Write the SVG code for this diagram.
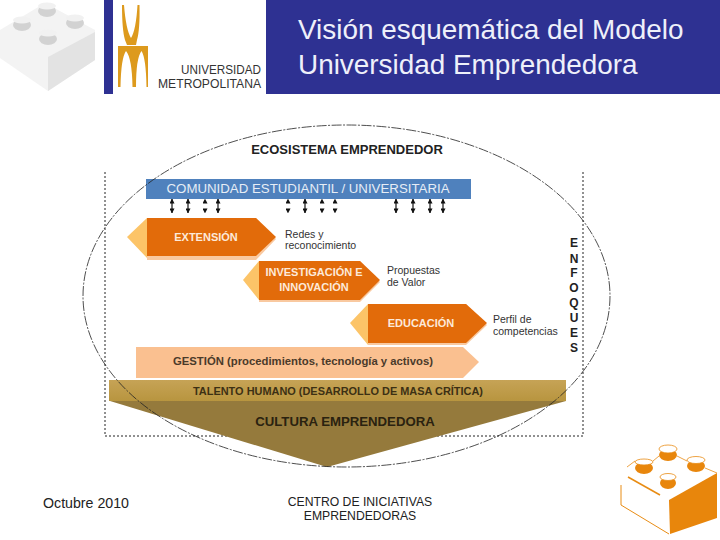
<svg xmlns="http://www.w3.org/2000/svg" width="720" height="540" viewBox="0 0 720 540">
<style>
text{font-family:"Liberation Sans",Arial,sans-serif}
.hd{font-size:27.900px;fill:#eef0fa}
.b{font-weight:bold}
.lab{font-size:10.500px;fill:#333}
.or{fill:#e26b0a}
.lt{fill:#fcc468}
.sh{fill:#f9c9a0}
.wt{font-size:11px;font-weight:bold;fill:#fde9d9;text-anchor:middle}
.arr{stroke:#111;stroke-width:1.200;fill:none;marker-start:url(#a);marker-end:url(#a)}
.arrg{stroke:none;fill:none;marker-start:url(#a);marker-end:url(#a)}
.foot{font-size:14.200px;fill:#222}
.cen{font-size:12.200px;fill:#222;text-anchor:middle}
.en{font-size:12px;font-weight:bold;fill:#222;text-anchor:middle}
</style>
<defs>
<marker id="a" viewBox="0 0 6 6" refX="5.500" refY="3" markerUnits="userSpaceOnUse" markerWidth="5" markerHeight="5" orient="auto-start-reverse"><path d="M0 0L6 3L0 6z" fill="#111"/></marker>
<linearGradient id="g" x1="0" y1="0" x2="0" y2="1"><stop offset="0" stop-color="#c6a356"/><stop offset="1" stop-color="#b8953f"/></linearGradient>
</defs>
<rect width="720" height="540" fill="#fff"/>
<g id="lego-grey">
<path d="M0 30L45 3L95 30V60L48 91L0 58z" fill="#f3f3f3"/>
<path d="M48 57L95 32V60L48 91z" fill="#e3e3e3"/>
<g fill="#d2d2d2"><ellipse cx="47" cy="11" rx="9" ry="6"/><ellipse cx="22" cy="25" rx="9" ry="6"/><ellipse cx="75" cy="23" rx="9" ry="6"/><ellipse cx="48" cy="39" rx="9" ry="6"/></g>
<g fill="#f1f1f1"><ellipse cx="47" cy="6" rx="9" ry="3.500"/><ellipse cx="22" cy="20" rx="9" ry="3.500"/><ellipse cx="75" cy="18" rx="9" ry="3.500"/><ellipse cx="48" cy="33" rx="9" ry="3.500"/></g>
</g>
<g id="header">
<rect x="104" y="0" width="616" height="94" fill="#2e3192"/>
<rect x="113" y="0" width="153" height="94" fill="#fff"/>
<path d="M122 5H124Q126 30 131 38Q136 30 137.500 5H139.500Q140 30 137 40L136 45H127L125 40Q122 30 122 5z" fill="#dd9a1d"/>
<path d="M118 46H148V87H146.500Q146 58 141.500 51Q136 58 136 87H132.500Q132 58 126 51Q121 58 120.500 87H118z" fill="#dd9a1d"/>
<text x="261" y="74" font-size="13.500" text-anchor="end" fill="#333" textLength="80" lengthAdjust="spacingAndGlyphs">UNIVERSIDAD</text>
<text x="261" y="88" font-size="13.500" text-anchor="end" fill="#333" textLength="103" lengthAdjust="spacingAndGlyphs">METROPOLITANA</text>
<text x="298" y="39" class="hd">Visión esquemática del Modelo</text>
<text x="298" y="74" class="hd">Universidad Emprendedora</text>
</g>
<g id="frame">
<path d="M105 172V436H583V172" fill="none" stroke="#222" stroke-width="1" stroke-dasharray="2 2"/>
</g>
<text x="347" y="154" font-size="13" class="b" fill="#222" text-anchor="middle">ECOSISTEMA EMPRENDEDOR</text>
<g id="comunidad">
<rect x="146" y="179" width="325" height="20" fill="#4f81bd"/>
<text x="308" y="193" font-size="12" fill="#e6edf6" text-anchor="middle" textLength="283" lengthAdjust="spacingAndGlyphs">COMUNIDAD ESTUDIANTIL / UNIVERSITARIA</text>
</g>
<g id="extension">
<path d="M147 218H256L276 239L256 260H147z" class="sh"/>
<path d="M127 237L147 218V258z" class="lt"/>
<path d="M147 218H256L276 237L256 256H147z" class="or"/>
<text x="206" y="241" class="wt">EXTENSIÓN</text>
<text x="285" y="238" class="lab">Redes y</text>
<text x="285" y="249" class="lab">reconocimiento</text>
</g>
<g id="investigacion">
<path d="M259 261H360L380 282L360 302H259z" class="sh"/>
<path d="M243 280L259 261V300z" class="lt"/>
<path d="M259 261H360L380 280L360 300H259z" class="or"/>
<text x="314" y="276" class="wt">INVESTIGACIÓN E</text>
<text x="314" y="291" class="wt">INNOVACIÓN</text>
<text x="387" y="274" class="lab">Propuestas</text>
<text x="387" y="286" class="lab">de Valor</text>
</g>
<g id="educacion">
<path d="M368 304H466L487 325L466 345H368z" class="sh"/>
<path d="M350 323L368 304V345z" class="lt"/>
<path d="M368 304H466L487 323L466 343H368z" class="or"/>
<text x="421" y="327" class="wt">EDUCACIÓN</text>
<text x="493" y="323" class="lab">Perfil de</text>
<text x="493" y="335" class="lab">competencias</text>
</g>
<g id="gestion">
<path d="M136 347H463L479 362L463 378H136z" fill="#fac090"/>
<text x="303" y="365" font-size="11" class="b" fill="#4a3a2a" text-anchor="middle" textLength="260" lengthAdjust="spacingAndGlyphs">GESTIÓN (procedimientos, tecnología y activos)</text>
</g>
<g id="cultura">
<path d="M110 401H566L327 467z" fill="#957a3c"/>
<rect x="109" y="380" width="457" height="21" fill="url(#g)"/>
<text x="338" y="395" font-size="11" class="b" fill="#3c3014" text-anchor="middle" textLength="290" lengthAdjust="spacingAndGlyphs">TALENTO HUMANO (DESARROLLO DE MASA CRÍTICA)</text>
<text x="345" y="426" font-size="13.200" class="b" fill="#2a2210" text-anchor="middle">CULTURA EMPRENDEDORA</text>
</g>
<g id="enfoques">
<text x="574" y="247" class="en">E</text><text x="574" y="263" class="en">N</text><text x="574" y="277" class="en">F</text><text x="574" y="292" class="en">O</text><text x="574" y="307" class="en">Q</text><text x="574" y="322" class="en">U</text><text x="574" y="337" class="en">E</text><text x="574" y="352" class="en">S</text>
</g>
<g id="connectors">
<ellipse cx="346.500" cy="296" rx="263.500" ry="171" fill="none" stroke="#222" stroke-width=".8" stroke-dasharray="10 1.500 2 1.500"/>
<path class="arr" d="M172 199V213"/><path class="arr" d="M188 199V213"/><path class="arr" d="M218 199V213"/><path class="arr" d="M305 199V213"/><path class="arr" d="M396 199V213"/><path class="arr" d="M413 199V213"/><path class="arr" d="M430 199V213"/><path class="arr" d="M443 199V213"/>
<path class="arrg" d="M205 199V213"/><path class="arrg" d="M288 199V213"/><path class="arrg" d="M322 199V213"/><path class="arrg" d="M335 199V213"/>
</g>
<text x="43" y="508" class="foot">Octubre 2010</text>
<text x="360" y="506" class="cen">CENTRO DE INICIATIVAS</text>
<text x="360" y="520" class="cen">EMPRENDEDORAS</text>
<g id="lego-orange">
<path d="M621 485L627 465Q640 452 655 458L668 444L685 455L717 473V518L669 534L621 505z" fill="#fff"/>
<path d="M621 485V505L669 534" fill="none" stroke="#e88c14" stroke-width="1"/>
<path d="M628 477L660 495" stroke="#e88c14" stroke-width="1.500"/>
<path d="M627 467L635 461M653 461L659 456M677 456L687 461M705 468L717 473" fill="none" stroke="#e88c14" stroke-width=".8"/>
<path d="M669 500L717 473V518L670 534z" fill="#e8860c"/>
<g fill="#e8860c"><ellipse cx="668" cy="455" rx="9" ry="6"/><ellipse cx="644" cy="468" rx="9" ry="6"/><ellipse cx="696" cy="466" rx="9" ry="6"/><ellipse cx="668" cy="483" rx="8" ry="6"/></g>
<g fill="#fff" stroke="#e88c14" stroke-width=".8"><ellipse cx="668" cy="449" rx="9" ry="4"/><ellipse cx="644" cy="462" rx="9" ry="3"/><ellipse cx="696" cy="460" rx="9" ry="3.500"/><ellipse cx="668" cy="477" rx="8" ry="3.500"/></g>
</g>
</svg>
